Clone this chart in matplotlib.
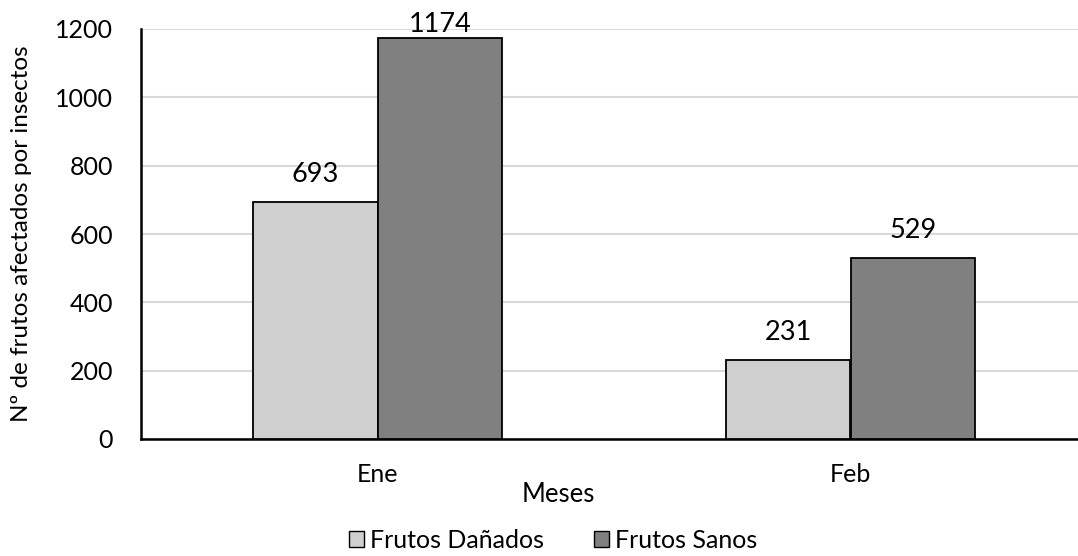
import matplotlib
matplotlib.use("Agg")
import matplotlib.pyplot as plt
import numpy as np
from matplotlib.patches import Patch

months = ["Ene", "Feb"]
series_names = ["Frutos Dañados", "Frutos Sanos"]
danados = [693, 231]
sanos = [1174, 529]
yticks = [0, 200, 400, 600, 800, 1000, 1200]

plt.rcParams["font.family"] = ["Lato", "DejaVu Sans"]

W, H = 1078, 556
fig = plt.figure(figsize=(W / 100, H / 100), dpi=100)
ax = fig.add_axes([141 / W, 1 - 439 / H, 946 / W, 410 / H])

x = np.arange(len(months))
bw = 0.264
colors = ["#D0CFD0", "#808080"]
label_gap = 58      # data units between bar top and label baseline
label_ceiling = 1191  # labels are kept inside the chart area
for i, (vals, c, name) in enumerate(zip([danados, sanos], colors, series_names)):
    pos = x + (i - 0.5) * bw
    ax.bar(pos, vals, width=bw, color=c, edgecolor="black", linewidth=1.3, zorder=3, label=name)
    for p, v in zip(pos, vals):
        ax.text(p, min(v + label_gap, label_ceiling), str(v), ha="center", va="baseline",
                fontsize=19.5, color="#000000", zorder=4, clip_on=False)

ax.set_xlim(-0.5, 1.5)
ax.set_ylim(0, 1200)
ax.set_yticks(yticks)
ax.set_yticklabels([str(t) for t in yticks], fontsize=18)
ax.set_xticks(x)
ax.set_xticklabels(months, fontsize=18)
ax.tick_params(axis="y", length=0, pad=20)
ax.tick_params(axis="x", length=0, pad=17)
ax.yaxis.grid(True, color="#D9D9D9", linewidth=1.5, zorder=0)
ax.set_axisbelow(True)
for s in ["top", "right"]:
    ax.spines[s].set_visible(False)
for s in ["left", "bottom"]:
    ax.spines[s].set_linewidth(1.8)
    ax.spines[s].set_color("black")

ax.set_ylabel("Nº de frutos afectados por insectos", fontsize=17.5)
ax.yaxis.set_label_coords(-109 / 946, 0.5)
fig.text(558 / W, 1 - 494 / H, "Meses", ha="center", va="center", fontsize=18.5)

handles = [Patch(facecolor=c, edgecolor="black", linewidth=1.0) for c in colors]
fig.legend(handles, series_names, loc="center", bbox_to_anchor=(553 / W, 1 - 540 / H),
           ncol=2, frameon=False, fontsize=18, handlelength=0.6, handleheight=0.6,
           handletextpad=0.25, columnspacing=2.0)

fig.savefig("out.png", dpi=100)
